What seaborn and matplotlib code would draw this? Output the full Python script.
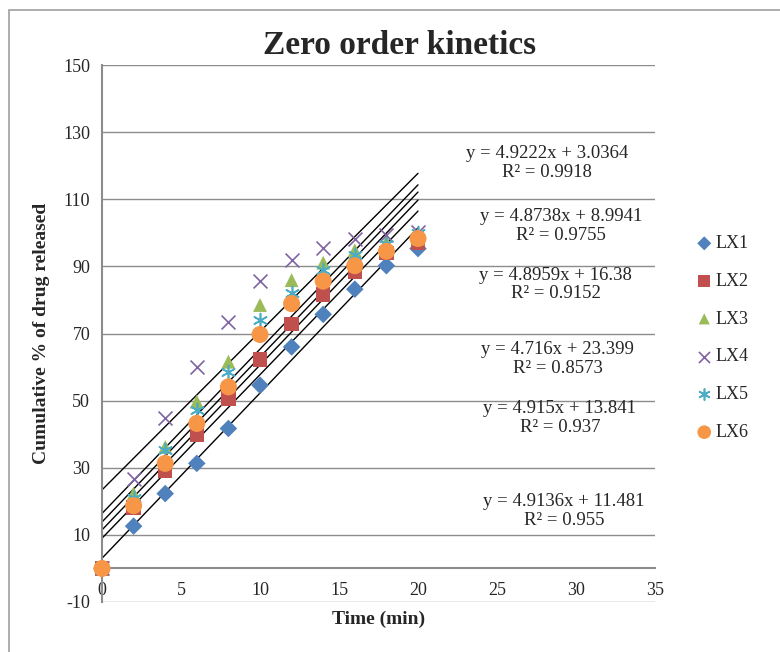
import numpy as np
import pandas as pd
import matplotlib
matplotlib.use("Agg")
import matplotlib.pyplot as plt
import matplotlib.patches as patches
import seaborn as sns

# Data
time_min = [0, 2, 4, 6, 8, 10, 12, 14, 16, 18, 20]
series_names = ["LX1", "LX2", "LX3", "LX4", "LX5", "LX6"]
lx1 = [0, 12.6, 22.3, 31.3, 41.7, 54.6, 66.0, 75.7, 83.2, 90.2, 95.3]
lx2 = [0, 18.1, 29.0, 39.7, 50.6, 62.3, 72.8, 81.7, 88.4, 94.0, 97.0]
lx3 = [0, 22.3, 36.2, 49.7, 61.6, 78.5, 85.9, 91.1, 94.8, 97.3, 98.3]
lx4 = [0, 26.5, 44.7, 60.1, 73.3, 85.6, 91.9, 95.6, 98.1, 99.3, 100.3]
lx5 = [0, 20.9, 35.3, 47.2, 58.6, 74.0, 82.1, 88.9, 93.3, 96.8, 99.8]
lx6 = [0, 18.7, 31.3, 43.2, 54.1, 69.7, 78.9, 85.6, 90.2, 94.5, 98.3]

# trendline equations shown on the chart
slopes = [4.9222, 4.8738, 4.8959, 4.716, 4.915, 4.9136]
intercepts = [3.0364, 8.9941, 16.38, 23.399, 13.841, 11.481]
r_squared = ["0.9918", "0.9755", "0.9152", "0.8573", "0.937", "0.955"]
eq_labels = ["4.9222x + 3.0364", "4.8738x + 8.9941", "4.8959x + 16.38",
             "4.716x + 23.399", "4.915x + 13.841", "4.9136x + 11.481"]

df = pd.DataFrame({"time": time_min, "LX1": lx1, "LX2": lx2, "LX3": lx3,
                   "LX4": lx4, "LX5": lx5, "LX6": lx6})

sns.set_style("white")
plt.rcParams["font.family"] = ["Liberation Serif", "DejaVu Serif"]
plt.rcParams["axes.unicode_minus"] = False

colors = ["#4F81BD", "#C0504D", "#9BBB59", "#8064A2", "#4BACC6", "#F79646"]
markers = ["D", "s", "^", "x", (6, 2, 0), "o"]
sizes = [80, 110, 100, 100, 100, 150]

fig = plt.figure(figsize=(7.8, 6.52), dpi=100)
ax = fig.add_axes([102 / 780, 1 - 602 / 652, 553 / 780, 537 / 652])

# trendlines first, points on top
xfit = np.array([0, 20])
for m, b in zip(slopes, intercepts):
    ax.plot(xfit, m * xfit + b, color="black", lw=1, zorder=2)

for i, name in enumerate(series_names):
    kw = dict(marker=markers[i], s=sizes[i], color=colors[i], label=name,
              zorder=3, ax=ax, clip_on=False)
    if markers[i] in ("x", (6, 2, 0)):
        kw["linewidth"] = 1.2
    else:
        kw["edgecolor"] = "none"
    sns.scatterplot(data=df, x="time", y=name, **kw)

# equation labels
eq_pos = [(28.15, 120.8), (29.04, 102.0), (28.72, 84.5),
          (28.85, 62.4), (28.98, 44.8), (29.23, 17.1)]
for (px, py), eq, r2 in zip(eq_pos, eq_labels, r_squared):
    ax.text(px, py, f"y = {eq}\nR² = {r2}", ha="center", va="center",
            multialignment="center", fontsize=13.5, linespacing=1.1, zorder=4)

ax.set_xlim(0, 35)
ax.set_ylim(-10, 150)
ax.set_xticks(range(0, 36, 5))
ax.set_yticks(range(-10, 151, 20))
ax.grid(axis="y", color="#8c8c8c", lw=1)
ax.set_axisbelow(True)

for s in ["top", "right"]:
    ax.spines[s].set_visible(False)
ax.spines["left"].set_color("#8c8c8c")
ax.spines["left"].set_linewidth(1.5)
ax.spines["bottom"].set_position(("data", 0))
ax.spines["bottom"].set_color("#8c8c8c")
ax.spines["bottom"].set_linewidth(1.5)
ax.tick_params(axis="both", direction="out", length=5, width=1,
               color="#8c8c8c", labelsize=13)
ax.tick_params(axis="x", pad=5)

ax.set_xlabel("Time (min)", fontsize=14, fontweight="bold")
ax.xaxis.set_label_coords(0.5, -0.017)
ax.set_ylabel("Cumulative % of drug released", fontsize=14, fontweight="bold")
ax.yaxis.set_label_coords(-0.094, 0.5)
fig.text(400 / 780, 1 - 45 / 652, "Zero order kinetics", ha="center",
         va="center", fontsize=24, fontweight="bold")

leg = ax.legend(loc="center left", bbox_to_anchor=(688 / 780, 1 - 338 / 652),
                bbox_transform=fig.transFigure, frameon=False, fontsize=13,
                handletextpad=0.1, labelspacing=1.15, handlelength=1.0,
                borderaxespad=0, markerscale=0.8)

# chart border
fig.patches.append(patches.Rectangle((9 / 780, -0.1), 2, 1 - 10 / 652 + 0.1,
                                     transform=fig.transFigure, fill=False,
                                     edgecolor="#a0a0a0", lw=1.2))

fig.savefig("out.png", dpi=100)
